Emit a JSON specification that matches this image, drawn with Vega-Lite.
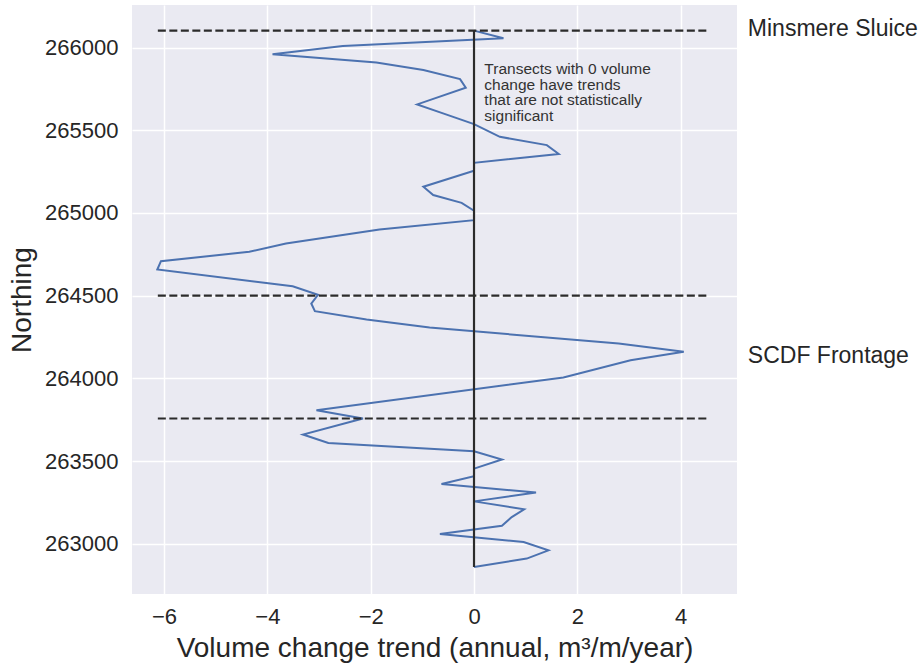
{
  "$schema": "https://vega.github.io/schema/vega-lite/v6.json",
  "width": 605,
  "height": 589,
  "autosize": {"type": "none"},
  "padding": {"left": 132, "top": 5, "right": 184, "bottom": 74},
  "background": "#FFFFFF",
  "datasets": {
    "trend": [
      {"n": 266102, "v": 0},
      {"n": 266056, "v": 0.57},
      {"n": 266009, "v": -2.54},
      {"n": 265959, "v": -3.9},
      {"n": 265910, "v": -1.89},
      {"n": 265864, "v": -0.98},
      {"n": 265809, "v": -0.27},
      {"n": 265757, "v": -0.16},
      {"n": 265656, "v": -1.1},
      {"n": 265602, "v": -0.6},
      {"n": 265537, "v": 0},
      {"n": 265460, "v": 0.5},
      {"n": 265410, "v": 1.41},
      {"n": 265356, "v": 1.64},
      {"n": 265303, "v": 0},
      {"n": 265255, "v": 0},
      {"n": 265158, "v": -0.98},
      {"n": 265108, "v": -0.79},
      {"n": 265061, "v": -0.24},
      {"n": 265013, "v": 0},
      {"n": 264956, "v": 0},
      {"n": 264900, "v": -1.83},
      {"n": 264815, "v": -3.64},
      {"n": 264765, "v": -4.35},
      {"n": 264708, "v": -6.06},
      {"n": 264658, "v": -6.13},
      {"n": 264557, "v": -3.51},
      {"n": 264505, "v": -3.02},
      {"n": 264452, "v": -3.15},
      {"n": 264406, "v": -3.08},
      {"n": 264356, "v": -2.08},
      {"n": 264307, "v": -0.86},
      {"n": 264210, "v": 2.8},
      {"n": 264160, "v": 4.06},
      {"n": 264109, "v": 3.03},
      {"n": 264005, "v": 1.73},
      {"n": 263807, "v": -3.05},
      {"n": 263757, "v": -2.15},
      {"n": 263660, "v": -3.31},
      {"n": 263609, "v": -2.82},
      {"n": 263559, "v": 0},
      {"n": 263509, "v": 0.54},
      {"n": 263454, "v": 0},
      {"n": 263408, "v": 0},
      {"n": 263361, "v": -0.63},
      {"n": 263309, "v": 1.2},
      {"n": 263256, "v": 0},
      {"n": 263208, "v": 0.97},
      {"n": 263161, "v": 0.73},
      {"n": 263109, "v": 0.54},
      {"n": 263059, "v": -0.66},
      {"n": 263010, "v": 0.96},
      {"n": 262960, "v": 1.44},
      {"n": 262910, "v": 1.02},
      {"n": 262859, "v": 0}
    ],
    "dashes": [
      {"n": 266102, "v": -6.12, "v2": 4.56},
      {"n": 264500, "v": -6.12, "v2": 4.56},
      {"n": 263757, "v": -6.12, "v2": 4.56}
    ],
    "zero": [
      {"v": 0, "n": 262859, "n2": 266102}
    ],
    "regions": [
      {"v": 5.3, "n": 266110, "label": "Minsmere Sluice"},
      {"v": 5.3, "n": 264135, "label": "SCDF Frontage"}
    ],
    "note": [
      {"v": 0.2, "n": 265840, "label": "Transects with 0 volume\nchange have trends\nthat are not statistically\nsignificant"}
    ]
  },
  "layer": [
    {
      "data": {"name": "trend"},
      "mark": {"type": "line", "color": "#4C72B0", "strokeWidth": 2},
      "encoding": {
        "x": {"field": "v", "type": "quantitative", "scale": {"domain": [-6.62, 5.09], "nice": false, "zero": false}, "axis": {"values": [-6, -4, -2, 0, 2, 4], "format": "d", "title": "Volume change trend (annual, m³/m/year)"}},
        "y": {"field": "n", "type": "quantitative", "scale": {"domain": [262696, 266257], "nice": false, "zero": false}, "axis": {"values": [263000, 263500, 264000, 264500, 265000, 265500, 266000], "format": "d", "title": "Northing"}},
        "order": {"field": "n", "type": "quantitative"}
      }
    },
    {
      "data": {"name": "zero"},
      "mark": {"type": "rule", "color": "#2B2B2B", "strokeWidth": 2.2},
      "encoding": {
        "x": {"field": "v", "type": "quantitative", "title": "Volume change trend (annual, m³/m/year)"},
        "y": {"field": "n", "type": "quantitative", "title": "Northing"},
        "y2": {"field": "n2"}
      }
    },
    {
      "data": {"name": "dashes"},
      "mark": {"type": "rule", "color": "#2B2B2B", "strokeWidth": 2.2, "strokeDash": [8, 3.5]},
      "encoding": {
        "x": {"field": "v", "type": "quantitative", "title": "Volume change trend (annual, m³/m/year)"},
        "x2": {"field": "v2"},
        "y": {"field": "n", "type": "quantitative", "title": "Northing"}
      }
    },
    {
      "data": {"name": "regions"},
      "mark": {"type": "text", "align": "left", "baseline": "middle", "fontSize": 23, "color": "#262626"},
      "encoding": {
        "x": {"field": "v", "type": "quantitative", "title": "Volume change trend (annual, m³/m/year)"},
        "y": {"field": "n", "type": "quantitative", "title": "Northing"},
        "text": {"field": "label"}
      }
    },
    {
      "data": {"name": "note"},
      "mark": {"type": "text", "align": "left", "baseline": "alphabetic", "fontSize": 15.5, "lineHeight": 15.7, "lineBreak": "\n", "color": "#333333"},
      "encoding": {
        "x": {"field": "v", "type": "quantitative", "title": "Volume change trend (annual, m³/m/year)"},
        "y": {"field": "n", "type": "quantitative", "title": "Northing"},
        "text": {"field": "label"}
      }
    }
  ],
  "config": {
    "font": "Liberation Sans",
    "view": {"fill": "#EAEAF2", "stroke": null},
    "axis": {
      "domain": false,
      "ticks": false,
      "grid": true,
      "gridColor": "#FFFFFF",
      "gridWidth": 1.5,
      "labelFont": "Liberation Sans",
      "labelFontSize": 22,
      "labelColor": "#262626",
      "titleFont": "Liberation Sans",
      "titleFontSize": 28,
      "titleFontWeight": "normal",
      "titleColor": "#262626",
      "labelPadding": 12
    },
    "axisY": {"labelPadding": 14, "titlePadding": 8},
    "axisX": {"titlePadding": 7}
  }
}
